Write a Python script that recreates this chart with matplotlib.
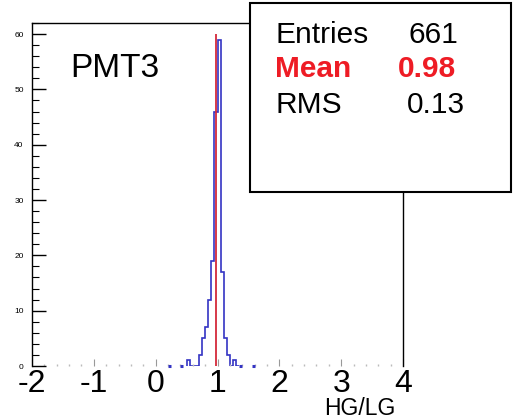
import matplotlib.pyplot as plt
import numpy as np
from matplotlib.ticker import MultipleLocator
from matplotlib.patches import Rectangle

# histogram of HG/LG ratio, bin width 0.05
bin_lo = [0.50, 0.55, 0.60, 0.65, 0.70, 0.75, 0.80, 0.85, 0.90,
          0.95, 1.00, 1.05, 1.10, 1.15, 1.20, 1.25, 1.30]
counts = [1, 0, 0, 0, 2, 5, 7, 12, 19, 46, 59, 17, 5, 2, 0, 1, 0]
bin_width = 0.05
# isolated single entries far from the peak (drawn at the baseline)
stray_lo = [0.20, 0.40, 1.35, 1.55]

stat_names = ["Entries", "Mean", "RMS"]
stat_values = ["661", "0.98", "0.13"]
mean_val = 0.97
mean_height = 60

x_ticks = [-2, -1, 0, 1, 2, 3, 4]
y_ticks = [0, 10, 20, 30, 40, 50, 60]

blue = "#3434c4"
red = "#d42a3a"
stat_red = "#ee1c25"

fig = plt.figure(figsize=(5.18, 4.19), dpi=100)
ax = fig.add_axes([32 / 518, 53 / 419, 371 / 518, 343 / 419])

edges = np.append(bin_lo, bin_lo[-1] + bin_width)
ax.stairs(counts, edges, color=blue, lw=1.2, baseline=0)
ax.hlines([0] * len(stray_lo), stray_lo, np.array(stray_lo) + bin_width,
          color=blue, lw=2.2, clip_on=False)
ax.vlines(mean_val, 0, mean_height, color=red, lw=1.3)

ax.set_xlim(-2, 4)
ax.set_ylim(0, 62)

# ROOT-like axes
for s in ["left", "top", "right"]:
    ax.spines[s].set_color("black")
    ax.spines[s].set_linewidth(1.0)
ax.spines["bottom"].set_visible(False)

ax.set_xticks(x_ticks)
ax.set_xticklabels([str(t) for t in x_ticks], family="Liberation Sans", fontsize=23)
ax.xaxis.set_minor_locator(MultipleLocator(0.2))
ax.tick_params(axis="x", which="major", direction="in", length=5, width=0.8,
               color="#999999", pad=2)
ax.tick_params(axis="x", which="minor", direction="in", length=1.5, width=1.0,
               color="#bbbbbb")

ax.set_yticks(y_ticks)
ax.set_yticklabels([str(t) for t in y_ticks],
                   family=["Liberation Sans Narrow", "Liberation Sans"], fontsize=6)
ax.yaxis.set_minor_locator(MultipleLocator(2))
ax.tick_params(axis="y", which="major", direction="in", length=10, width=1.0, pad=6)
ax.tick_params(axis="y", which="minor", direction="in", length=5, width=0.8)

ax.text((70 - 32) / 371, (366 - 77) / 343, "PMT3", transform=ax.transAxes,
        family="Liberation Sans", fontsize=24, va="baseline", ha="left")

fig.text(395 / 518, 4 / 419, "HG/LG", family="Liberation Sans", fontsize=16.5,
         ha="right", va="baseline")

# stats box
box = Rectangle((250 / 518, (419 - 192) / 419), 261 / 518, 189 / 419,
                transform=fig.transFigure, facecolor="white", edgecolor="black",
                lw=1.5, zorder=5)
fig.patches.append(box)

baselines = [43, 77, 113]
value_x = [408, 398, 407]
for i, name in enumerate(stat_names):
    col = stat_red if name == "Mean" else "black"
    wt = "bold" if name == "Mean" else "normal"
    yb = (419 - baselines[i]) / 419
    fig.text(275 / 518, yb, name, family="Liberation Sans", fontsize=21.5,
             color=col, weight=wt, va="baseline", ha="left", zorder=6)
    fig.text(value_x[i] / 518, yb, stat_values[i], family="Liberation Sans",
             fontsize=21.5, color=col, weight=wt, va="baseline", ha="left", zorder=6)

plt.savefig("out.png", dpi=100)
